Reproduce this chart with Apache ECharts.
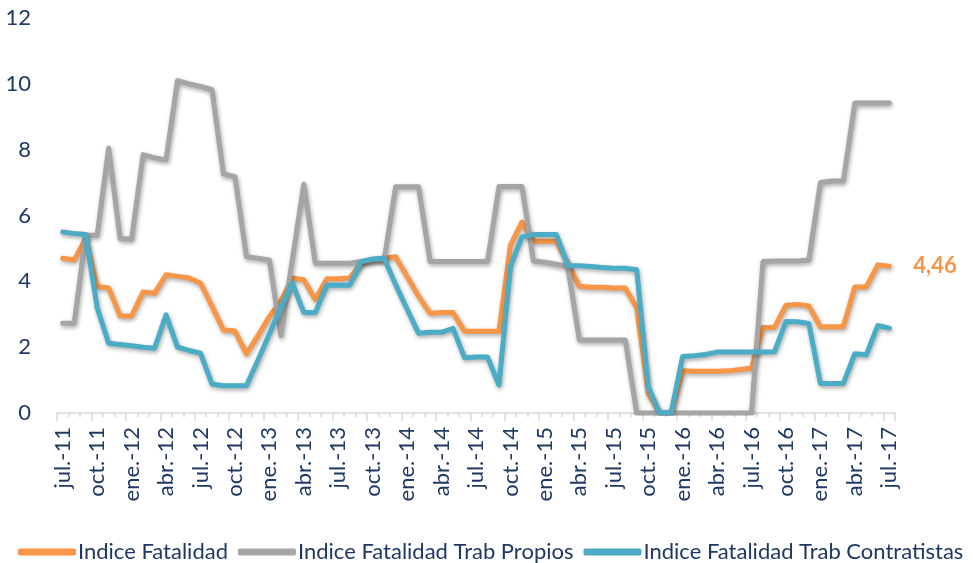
<!DOCTYPE html>
<html>
<head>
<meta charset="utf-8">
<script src="https://cdn.jsdelivr.net/npm/echarts@6/dist/echarts.min.js"></script>
<style>
  html, body { margin: 0; padding: 0; background: #fff; }
  #chart { width: 973px; height: 563px; }
</style>
</head>
<body>
<div id="chart"></div>
<script>
// meses jul-11 .. jul-17
const monthNames = ["ene.", "feb.", "mar.", "abr.", "may.", "jun.", "jul.", "ago.", "sep.", "oct.", "nov.", "dic."];
const startYear = 11;
const startMonth = 6; // jul
const nMonths = 73;
const categories = [];
for (let i = 0; i < nMonths; i++) {
  const m = (startMonth + i) % 12;
  const y = startYear + Math.floor((startMonth + i) / 12);
  categories.push(monthNames[m] + "-" + y);
}

const seriesNames = ["Indice Fatalidad", "Indice Fatalidad Trab Propios", "Indice Fatalidad Trab Contratistas"];

const fatalidad = [
  4.7, 4.65, 5.3, 3.84, 3.8, 2.95, 2.95, 3.68, 3.64, 4.2, 4.15, 4.1, 3.95,
  3.25, 2.52, 2.49, 1.8, 2.35, 2.93, 3.4, 4.1, 4.05, 3.45, 4.08, 4.08,
  4.1, 4.55, 4.65, 4.7, 4.75, 4.15, 3.55, 3.03, 3.05, 3.05, 2.48, 2.48,
  2.48, 2.48, 5.1, 5.8, 5.22, 5.22, 5.22, 4.55, 3.85, 3.82, 3.82, 3.8,
  3.8, 3.2, 0.6, 0, 0, 1.28, 1.27, 1.27, 1.27, 1.28, 1.32, 1.36,
  2.6, 2.6, 3.27, 3.3, 3.25, 2.62, 2.62, 2.62, 3.83, 3.83, 4.5, 4.46
];

const propios = [
  2.73, 2.73, 5.4, 5.4, 8.05, 5.3, 5.28, 7.85, 7.75, 7.69, 10.1, 10.0, 9.92,
  9.82, 7.26, 7.18, 4.75, 4.7, 4.65, 2.35, 4.65, 6.95, 4.55, 4.55, 4.55,
  4.55, 4.6, 4.65, 4.65, 6.87, 6.87, 6.87, 4.6, 4.6, 4.6, 4.6, 4.6,
  4.6, 6.88, 6.88, 6.88, 4.62, 4.58, 4.52, 4.45, 2.22, 2.22, 2.22, 2.22,
  2.22, 0, 0, 0, 0, 0, 0, 0, 0, 0, 0, 0,
  4.6, 4.62, 4.62, 4.62, 4.65, 7.0, 7.05, 7.05, 9.42, 9.42, 9.42, 9.42
];

const contratistas = [
  5.5, 5.45, 5.42, 3.2, 2.12, 2.08, 2.04, 2.0, 1.97, 2.98, 2.0, 1.9, 1.82,
  0.88, 0.83, 0.83, 0.83, 1.6, 2.4, 3.2, 3.95, 3.05, 3.05, 3.88, 3.88,
  3.88, 4.6, 4.68, 4.7, 3.9, 3.15, 2.42, 2.45, 2.45, 2.57, 1.68, 1.7,
  1.7, 0.85, 4.45, 5.35, 5.42, 5.42, 5.42, 4.47, 4.47, 4.45, 4.42, 4.4,
  4.4, 4.35, 0.8, 0, 0, 1.72, 1.74, 1.78, 1.85, 1.85, 1.85, 1.85,
  1.85, 1.86, 2.78, 2.77, 2.72, 0.9, 0.9, 0.9, 1.8, 1.77, 2.66, 2.58
];

const colors = ["#F79646", "#A5A5A5", "#4BACC6"];
const textColor = "#1F3864";
const fontFamily = "Lato, 'Open Sans', sans-serif";

const chart = echarts.init(document.getElementById("chart"));

const lineShadow = {
  shadowColor: "rgba(0, 0, 0, 0.35)",
  shadowBlur: 4,
  shadowOffsetX: 1,
  shadowOffsetY: 2,
};

const makeSeries = (name, data, color) => ({
  name: name,
  type: "line",
  data: data,
  symbol: "none",
  smooth: false,
  lineStyle: Object.assign({ color: color, width: 5, cap: "round", join: "round" }, lineShadow),
  itemStyle: { color: color },
});

const fatalSeries = makeSeries(seriesNames[0], fatalidad, colors[0]);
fatalSeries.endLabel = {
  show: true,
  distance: 24,
  color: colors[0],
  fontSize: 22,
  fontWeight: "bold",
  fontFamily: fontFamily,
  formatter: (p) => Number(p.value).toFixed(2).replace(".", ","),
};

const option = {
  animation: false,
  textStyle: { fontFamily: fontFamily },
  grid: { left: 57, right: 78, top: 18, bottom: 150, containLabel: false },
  legend: {
    data: seriesNames,
    left: 13,
    top: 536,
    icon: "roundRect",
    itemWidth: 58,
    itemHeight: 7,
    itemGap: 10,
    textStyle: { color: textColor, fontSize: 22, fontFamily: fontFamily, padding: [0, 0, 0, -3] },
  },
  xAxis: [
    {
      type: "category",
      data: categories,
      boundaryGap: true,
      axisLine: { show: true, lineStyle: { color: "#D9D9D9", width: 1.5 } },
      axisTick: { show: true, interval: 0, length: 4, lineStyle: { color: "#D9D9D9", width: 1.5 } },
      axisLabel: {
        interval: 2,
        rotate: 90,
        margin: 14,
        color: textColor,
        fontSize: 22,
        fontFamily: fontFamily,
      },
      splitLine: { show: false },
    },
    {
      type: "category",
      data: categories,
      boundaryGap: true,
      position: "bottom",
      axisLine: { show: false },
      axisTick: { show: true, interval: 2, length: 8, lineStyle: { color: "#D9D9D9", width: 1.5 } },
      axisLabel: { show: false },
      splitLine: { show: false },
    },
  ],
  yAxis: {
    type: "value",
    min: 0,
    max: 12,
    interval: 2,
    axisLine: { show: false },
    axisTick: { show: false },
    splitLine: { show: false },
    axisLabel: { color: textColor, fontSize: 22, fontFamily: fontFamily, margin: 26 },
  },
  series: [
    fatalSeries,
    makeSeries(seriesNames[1], propios, colors[1]),
    makeSeries(seriesNames[2], contratistas, colors[2]),
  ],
};

chart.setOption(option);
window.addEventListener("resize", () => {
  chart.resize();
});
</script>
</body>
</html>
